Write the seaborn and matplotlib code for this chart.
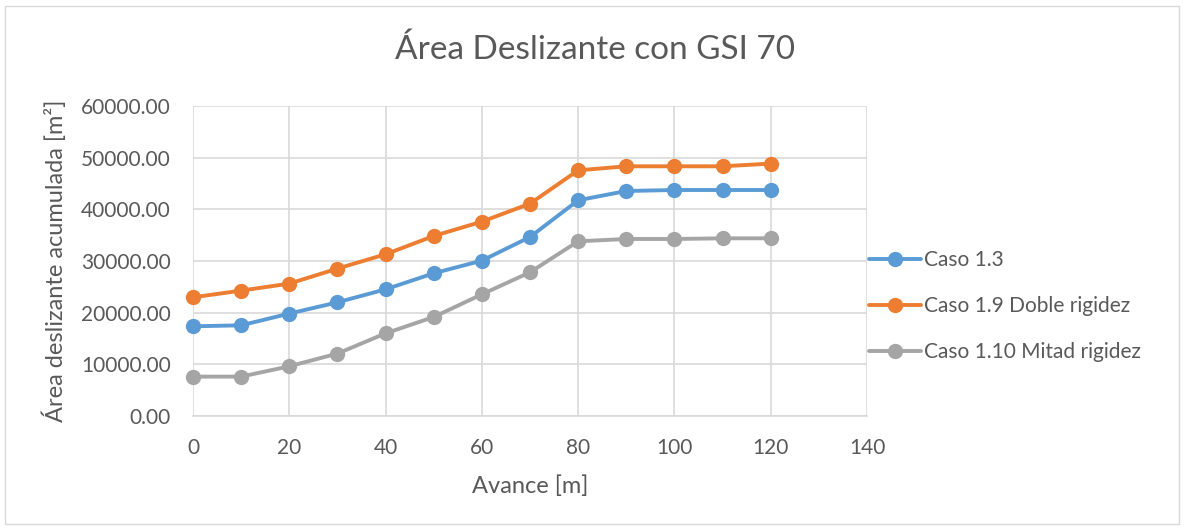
import matplotlib
matplotlib.use("Agg")
import matplotlib.pyplot as plt
import numpy as np
import pandas as pd
import seaborn as sns
from matplotlib.patches import Rectangle

# Data
avance = [0, 10, 20, 30, 40, 50, 60, 70, 80, 90, 100, 110, 120]
caso_1_3 = [17360, 17550, 19820, 22000, 24520, 27620, 30070, 34640, 41750, 43550, 43740, 43740, 43740]
caso_1_9 = [22970, 24270, 25620, 28530, 31300, 34840, 37620, 41100, 47550, 48330, 48330, 48330, 48850]
caso_1_10 = [7620, 7620, 9620, 12080, 16000, 19160, 23550, 27810, 33810, 34260, 34260, 34390, 34390]
series_names = ["Caso 1.3", "Caso 1.9 Doble rigidez", "Caso 1.10 Mitad rigidez"]
series_colors = ["#5B9BD5", "#ED7D31", "#A5A5A5"]
x_ticks = [0, 20, 40, 60, 80, 100, 120, 140]
y_ticks = [0, 10000, 20000, 30000, 40000, 50000, 60000]

df = pd.DataFrame({
    "Avance": avance * 3,
    "Area": caso_1_3 + caso_1_9 + caso_1_10,
    "Serie": [series_names[0]] * len(avance) + [series_names[1]] * len(avance) + [series_names[2]] * len(avance),
})

sns.set_style("white")
plt.rcParams["font.family"] = ["Lato", "DejaVu Sans"]
text_color = "#595959"

fig = plt.figure(figsize=(11.84, 5.29), dpi=100)
ax = fig.add_axes([193 / 1184, 1 - 416 / 529, (867 - 193) / 1184, (416 - 106) / 529])

sns.lineplot(
    data=df, x="Avance", y="Area", hue="Serie", hue_order=series_names,
    palette=series_colors, marker="o", markersize=11, markeredgewidth=0,
    linewidth=2.8, ax=ax, legend=False, clip_on=False, zorder=3,
)

ax.set_xlim(0, 140)
ax.set_ylim(0, 60000)
ax.set_xticks(x_ticks)
ax.set_yticks(y_ticks)
ax.set_yticklabels([f"{v:.2f}" for v in y_ticks])
ax.grid(True, color="#D9D9D9", linewidth=1.2)
ax.set_axisbelow(True)
for side in ["top", "right", "left"]:
    ax.spines[side].set_visible(False)
ax.spines["bottom"].set_color("#D9D9D9")
ax.spines["bottom"].set_linewidth(1.2)
ax.tick_params(axis="both", length=0, labelsize=15, labelcolor=text_color)
ax.tick_params(axis="x", pad=16)
ax.tick_params(axis="y", pad=16)

ax.set_xlabel("Avance [m]", fontsize=17, color=text_color, labelpad=12)
ax.set_ylabel("Área deslizante acumulada [m²]", fontsize=17, color=text_color, labelpad=10)
fig.text(595 / 1184, 1 - 50 / 529, "Área Deslizante con GSI 70", fontsize=24,
         color=text_color, ha="center", va="center")

ax.legend(handles=ax.lines[:3], labels=series_names, loc="center left",
          bbox_to_anchor=(1.0, (416 - 306) / 310), frameon=False, fontsize=15,
          labelcolor=text_color, handlelength=2.5, handletextpad=0.15,
          labelspacing=1.25, borderaxespad=0.0, borderpad=0.1)

fig.patches.append(Rectangle((5 / 1184, 5 / 529), 1174 / 1184, 518 / 529,
                             transform=fig.transFigure, fill=False,
                             edgecolor="#D9D9D9", linewidth=1))

fig.savefig("out.png", dpi=100)
